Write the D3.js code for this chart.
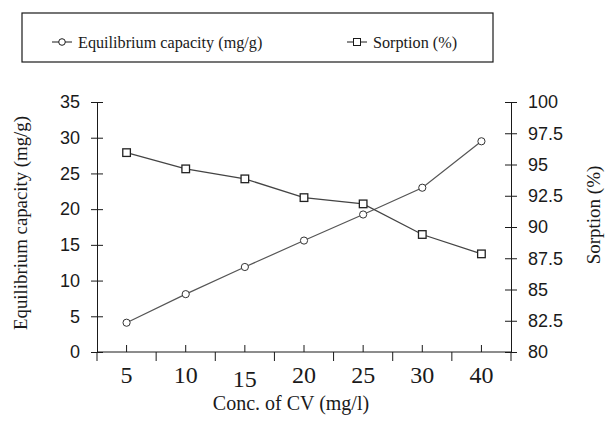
<!DOCTYPE html>
<html><head><meta charset="utf-8">
<script src="https://cdn.jsdelivr.net/npm/d3@7"></script>
<style>body{margin:0;background:#fff}</style>
</head><body>
<svg id="chart" width="606" height="421"></svg>
<script>
const categories = ["5","10","15","20","25","30","40"];
const capacity = [4.1, 8.1, 11.9, 15.6, 19.25, 23.0, 29.5];
const sorption = [95.95, 94.65, 93.85, 92.35, 91.85, 89.4, 87.85];
const leftTicks = [0,5,10,15,20,25,30,35];
const rightTicks = [80,82.5,85,87.5,90,92.5,95,97.5,100];
const seriesNames = ["Equilibrium capacity (mg/g)","Sorption (%)"];

const SERIF = "'Liberation Serif', 'Times New Roman', Times, serif";
const SANS = "'Liberation Sans', Arial, Helvetica, sans-serif";

const svg = d3.select("#chart");
const L = 97, R = 511, T = 102, B = 352;
const x = d3.scaleBand().domain(categories).range([L, R]);
const yL = d3.scaleLinear().domain([0,35]).range([B, T]);
const yR = d3.scaleLinear().domain([80,100]).range([B, T]);
const cx = d => x(d) + x.bandwidth()/2;
const ink = "#1a1a1a";

// legend
svg.append("rect").attr("x",22).attr("y",13).attr("width",471).attr("height",49)
  .attr("fill","none").attr("stroke",ink).attr("stroke-width",1.2);
const leg = [{x:52, name:seriesNames[0], shape:"circle"},{x:347, name:seriesNames[1], shape:"square"}];
leg.forEach(l=>{
  svg.append("line").attr("x1",l.x).attr("x2",l.x+20).attr("y1",42).attr("y2",42).attr("stroke",ink).attr("stroke-width",1);
  if(l.shape==="circle") svg.append("circle").attr("cx",l.x+10).attr("cy",42).attr("r",3.3).attr("fill","#fff").attr("stroke",ink);
  else svg.append("rect").attr("x",l.x+6.5).attr("y",38.5).attr("width",7).attr("height",7).attr("fill","#fff").attr("stroke",ink);
  svg.append("text").attr("x",l.x+26).attr("y",48).style("font-family",SERIF).style("font-size","16.2px").attr("fill",ink).text(l.name);
});

// left axis
const gL = svg.append("g").attr("transform",`translate(${L},0)`)
  .call(d3.axisLeft(yL).tickValues(leftTicks).tickSizeInner(6).tickSizeOuter(0).tickPadding(11));
gL.selectAll(".tick line").attr("x1",6).attr("stroke",ink);
gL.select(".domain").attr("stroke",ink);
gL.selectAll("text").style("font-family",SANS).style("font-size","18px").attr("fill",ink);

// right axis
const gR = svg.append("g").attr("transform",`translate(${R},0)`)
  .call(d3.axisRight(yR).tickValues(rightTicks).tickFormat(d=>String(d)).tickSizeInner(6).tickSizeOuter(0).tickPadding(11));
gR.selectAll(".tick line").attr("x1",-6).attr("stroke",ink);
gR.select(".domain").attr("stroke",ink);
gR.selectAll("text").style("font-family",SANS).style("font-size","18px").attr("fill",ink);

// x axis
svg.append("line").attr("x1",L).attr("x2",R).attr("y1",B).attr("y2",B).attr("stroke",ink);
const edges = categories.map(d=>x(d)).concat([x(categories[categories.length-1])+x.bandwidth()]);
svg.selectAll(".edgeTick").data(edges).join("line").attr("class","edgeTick")
  .attr("x1",d=>d).attr("x2",d=>d).attr("y1",B).attr("y2",B+9).attr("stroke",ink);
svg.selectAll(".catTick").data(categories).join("line").attr("class","catTick")
  .attr("x1",cx).attr("x2",cx).attr("y1",B).attr("y2",B-7).attr("stroke",ink);
svg.selectAll(".catLabel").data(categories).join("text").attr("class","catLabel")
  .attr("x",cx).attr("y",(d,i)=> i===2?387:383).attr("text-anchor","middle")
  .style("font-family",SERIF).style("font-size","24px").attr("fill",ink).text(d=>d);

// titles
svg.append("text").attr("x",291).attr("y",410).attr("text-anchor","middle")
  .style("font-family",SERIF).style("font-size","20px").attr("fill",ink).text("Conc. of CV (mg/l)");
svg.append("text").attr("transform","translate(27,223) rotate(-90)").attr("text-anchor","middle")
  .style("font-family",SERIF).style("font-size","18.8px").attr("fill",ink).text(seriesNames[0]);
svg.append("text").attr("transform","translate(600,215) rotate(-90)").attr("text-anchor","middle")
  .style("font-family",SERIF).style("font-size","19px").attr("fill",ink).text(seriesNames[1]);

// lines
const lineL = d3.line().x((d,i)=>cx(categories[i])).y(d=>yL(d));
const lineR = d3.line().x((d,i)=>cx(categories[i])).y(d=>yR(d));
svg.append("path").attr("d",lineL(capacity)).attr("fill","none").attr("stroke","#555").attr("stroke-width",1.2);
svg.append("path").attr("d",lineR(sorption)).attr("fill","none").attr("stroke","#444").attr("stroke-width",1.3);
svg.selectAll(".capPt").data(capacity).join("circle").attr("class","capPt")
  .attr("cx",(d,i)=>cx(categories[i])).attr("cy",d=>yL(d)).attr("r",3.6)
  .attr("fill","#fff").attr("stroke","#333").attr("stroke-width",1);
svg.selectAll(".sorPt").data(sorption).join("rect").attr("class","sorPt")
  .attr("x",(d,i)=>cx(categories[i])-3.8).attr("y",d=>yR(d)-3.8).attr("width",7.6).attr("height",7.6)
  .attr("fill","#fff").attr("stroke","#222").attr("stroke-width",1.3);
</script>
</body></html>
